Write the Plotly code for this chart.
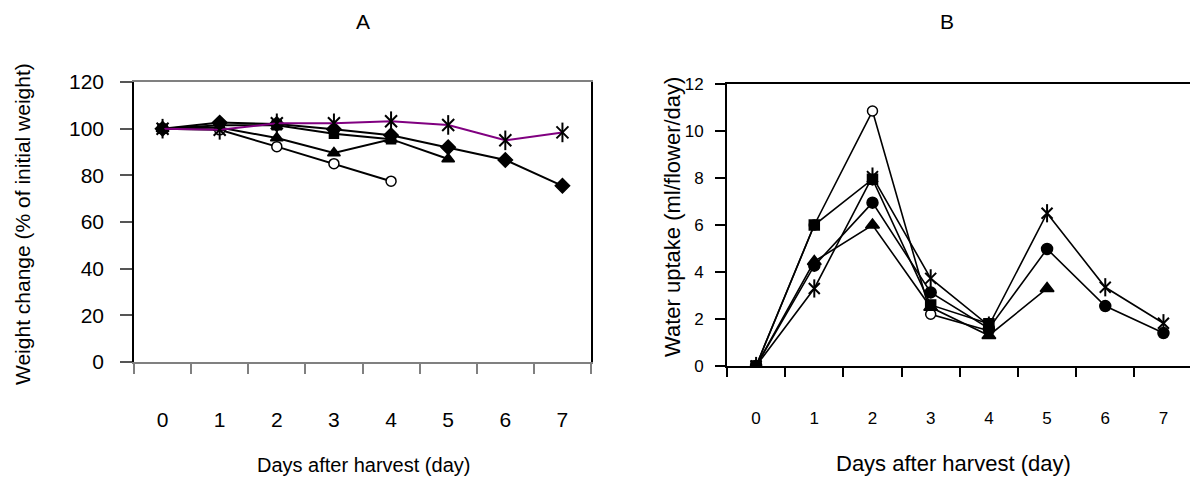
import plotly.graph_objects as go

days = ["0", "1", "2", "3", "4", "5", "6", "7"]

# Panel A: weight change (% of initial weight)
a_open_circle = [100, 99.5, 92.3, 85.0, 77.5]
a_square = [100, 101.5, 101.5, 97.8, 95.5]
a_triangle = [100, 100.5, 96.0, 89.6, 95.5, 87.0]
a_diamond = [100, 102.6, 102.0, 99.8, 97.2, 92.0, 86.6, 75.5]
a_asterisk = [100, 99.5, 102.3, 102.3, 103.2, 101.6, 95.0, 98.4]

# Panel B: water uptake (ml/flower/day)
b_open_circle = [0, 6.0, 10.85, 2.2, 1.5]
b_square = [0, 6.0, 7.95, 2.6, 1.8]
b_triangle = [0, 4.45, 6.0, 2.5, 1.3, 3.3]
b_circle = [0, 4.27, 6.95, 3.13, 1.6, 4.98, 2.55, 1.4]
b_asterisk = [0, 3.3, 8.06, 3.73, 1.72, 6.5, 3.35, 1.82]

a_yticks = [0, 20, 40, 60, 80, 100, 120]
b_yticks = [0, 2, 4, 6, 8, 10, 12]

FONT = "Liberation Sans, Arial, sans-serif"
OFF = 8  # page body margin
FW, FH = 1198 - 2 * OFF, 485 - 2 * OFF


def fx(px):
    return (px - OFF) / FW


def fy(py):
    return (FH - (py - OFF)) / FH


fig = go.Figure()


def add_series(x, y, symbol, size, xa, ya, line_color="black", lw=2.0,
               fill="black", mline=1.5, mcolor="black"):
    fig.add_trace(go.Scatter(
        x=x[:len(y)], y=y, mode="lines+markers", xaxis=xa, yaxis=ya,
        line=dict(color=line_color, width=lw),
        marker=dict(symbol=symbol, size=size, color=fill,
                    line=dict(color=mcolor, width=mline)),
        showlegend=False, hoverinfo="x+y"))


def add_asterisk(x, y, xa, ya, line_color, lw, size):
    fig.add_trace(go.Scatter(
        x=x[:len(y)], y=y, mode="lines+markers", xaxis=xa, yaxis=ya,
        line=dict(color=line_color, width=lw),
        marker=dict(symbol="x-thin-open", size=size, color="black",
                    line=dict(color="black", width=2)),
        showlegend=False, hoverinfo="x+y"))
    fig.add_trace(go.Scatter(
        x=x[:len(y)], y=y, mode="markers", xaxis=xa, yaxis=ya,
        marker=dict(symbol="line-ns-open", size=size + 2, color="black",
                    line=dict(color="black", width=2)),
        showlegend=False, hoverinfo="skip"))


# Panel A
add_series(days, a_open_circle, "circle", 10, "x", "y", fill="white", mline=1.5)
add_series(days, a_square, "square", 9, "x", "y")
add_series(days, a_triangle, "triangle-up", 11, "x", "y")
add_series(days, a_diamond, "diamond", 11, "x", "y")
add_asterisk(days, a_asterisk, "x", "y", "#800080", 2.0, 12)

# Panel B
add_series(days, b_open_circle, "circle", 10, "x2", "y2", lw=1.6, fill="white")
add_series(days, b_square, "square", 10, "x2", "y2", lw=1.6)
add_series(days, b_triangle, "triangle-up", 12, "x2", "y2", lw=1.6)
add_series(days, b_circle, "circle", 11, "x2", "y2", lw=1.6)
add_asterisk(days, b_asterisk, "x2", "y2", "black", 1.6, 11)

ax_common = dict(type="category", tickson="boundaries", ticks="outside",
                 showgrid=False, zeroline=False, showline=True, mirror=True,
                 automargin=False)

fig.update_layout(
    width=FW, height=FH,
    margin=dict(l=0, r=0, t=0, b=0, autoexpand=False),
    paper_bgcolor="white", plot_bgcolor="white",
    font=dict(family=FONT, color="black"),
    xaxis=dict(**ax_common, domain=[fx(134), fx(591)], range=[-0.5, 7.5],
               linecolor="#808080", linewidth=1.5, tickcolor="#808080",
               ticklen=10, tickwidth=1.5, ticklabelstandoff=38,
               tickfont=dict(size=21, family=FONT), anchor="y"),
    yaxis=dict(domain=[fy(362), fy(82)], range=[0, 120],
               tickvals=a_yticks, ticks="outside", ticklen=12, tickwidth=1.5,
               tickcolor="#555555", showgrid=False, zeroline=False,
               showline=True, linecolor="black", linewidth=1.5, mirror=True,
               ticklabelstandoff=12, tickfont=dict(size=21, family=FONT),
               anchor="x", automargin=False),
    xaxis2=dict(**ax_common, domain=[fx(727), 1.0], range=[-0.5, 7.456],
                linecolor="black", linewidth=2, tickcolor="black",
                ticklen=9, tickwidth=1.5, ticklabelstandoff=36,
                tickfont=dict(size=17, family=FONT), anchor="y2"),
    yaxis2=dict(domain=[fy(366), fy(84)], range=[0, 12],
                tickvals=b_yticks, ticks="outside", ticklen=10, tickwidth=1.5,
                tickcolor="black", showgrid=False, zeroline=False,
                showline=True, linecolor="black", linewidth=2,
                ticklabelstandoff=8, tickfont=dict(size=17, family=FONT),
                anchor="x2", automargin=False),
)

ann = [
    dict(text="A", x=363, y=22, size=21, angle=0),
    dict(text="B", x=947, y=22, size=21, angle=0),
    dict(text="Days after harvest (day)", x=363, y=465, size=20, angle=0),
    dict(text="Days after harvest (day)", x=953, y=463, size=22, angle=0),
    dict(text="Weight change (% of initial weight)", x=23, y=224, size=21, angle=-90),
    dict(text="Water uptake (ml/flower/day)", x=672, y=217, size=22, angle=-90),
]
for a in ann:
    fig.add_annotation(text=a["text"], x=fx(a["x"]), y=fy(a["y"]), xref="paper", yref="paper",
                       xanchor="center", yanchor="middle", showarrow=False,
                       textangle=a["angle"], font=dict(size=a["size"], family=FONT, color="black"))

fig.write_html("out.html")
